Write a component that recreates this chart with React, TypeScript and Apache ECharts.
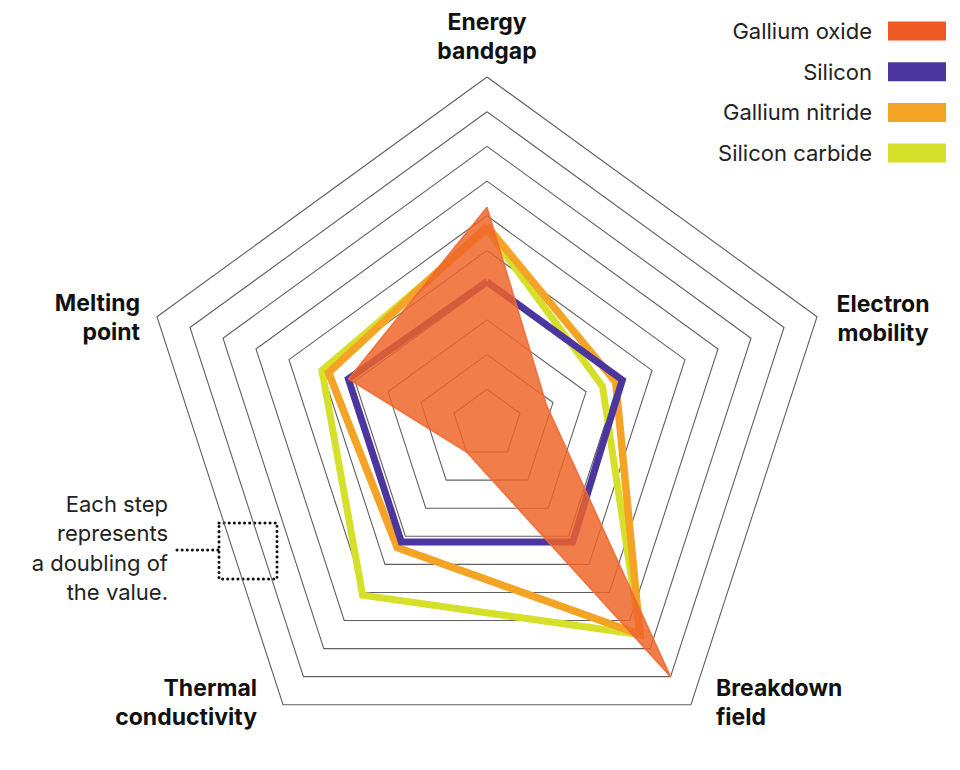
import React, { useEffect, useRef } from 'react';
import * as echarts from 'echarts';

// Indicators, counter-clockwise from the top
const indicatorNames = ['Energy\nbandgap', 'Melting\npoint', 'Thermal\nconductivity', 'Breakdown\nfield', 'Electron\nmobility'];
const stepCount = 10; // each step represents a doubling of the value

const seriesNames = ['Gallium oxide', 'Silicon', 'Gallium nitride', 'Silicon carbide'];
const galliumOxide = [6.25, 4.2, 1.0, 9.0, 1.8];
const silicon = [4.1, 4.2, 4.2, 4.2, 4.1];
const galliumNitride = [5.7, 4.8, 4.4, 7.5, 3.9];
const siliconCarbide = [5.6, 5.0, 6.1, 7.5, 3.5];

const colors: Record<string, string> = {
  'Gallium oxide': '#EE5A24',
  'Silicon': '#4B36A0',
  'Gallium nitride': '#F4A324',
  'Silicon carbide': '#D6E02B',
};

const note = 'Each step\nrepresents\na doubling of\nthe value.';

const FONT = 'Inter, "Noto Sans", sans-serif';

export default function App() {
  const ref = useRef<HTMLDivElement>(null);
  useEffect(() => {
    if (!ref.current) return;
    const chart = echarts.init(ref.current, null, { renderer: 'svg' });
    const lineSeries = (name: string, values: number[], width: number) => ({
      type: 'radar',
      name,
      symbol: 'none',
      silent: true,
      data: [{ value: values, name }],
      lineStyle: { color: colors[name], width, join: 'miter', opacity: 1 },
      itemStyle: { color: colors[name] },
    });
    const nameLabel = (text: string, x: number, y: number, align: string) => ({
      type: 'text',
      x,
      y,
      style: {
        text,
        font: `bold 23px ${FONT}`,
        fill: '#111',
        align,
        verticalAlign: 'top',
        lineHeight: 29,
      },
    });
    chart.setOption({
      animation: false,
      backgroundColor: '#fff',
      legend: {
        orient: 'vertical',
        right: 14,
        top: 20,
        padding: 0,
        align: 'right',
        itemWidth: 58,
        itemHeight: 19,
        itemGap: 18.7,
        selectedMode: false,
        textStyle: { fontFamily: FONT, fontSize: 22, lineHeight: 19, color: '#222', padding: [0, 11, 0, 0] },
        data: seriesNames.map((n) => ({ name: n, icon: 'rect', itemStyle: { color: colors[n] } })),
      },
      radar: {
        center: [487, 424],
        radius: 347,
        startAngle: 90,
        shape: 'polygon',
        splitNumber: stepCount,
        indicator: indicatorNames.map((n) => ({ name: n, min: 0, max: stepCount })),
        axisName: { show: false },
        axisLine: { show: false },
        axisTick: { show: false },
        axisLabel: { show: false },
        splitArea: { show: false },
        splitLine: { lineStyle: { color: '#606060', width: 1.1 } },
      },
      series: [
        lineSeries('Silicon carbide', siliconCarbide, 7),
        lineSeries('Gallium nitride', galliumNitride, 7.5),
        lineSeries('Silicon', silicon, 7),
        {
          type: 'radar',
          name: 'Gallium oxide',
          symbol: 'none',
          silent: true,
          data: [{ value: galliumOxide, name: 'Gallium oxide' }],
          lineStyle: { color: '#F07040', width: 1.5, opacity: 0.9 },
          areaStyle: { color: '#EE6428', opacity: 0.84 },
          itemStyle: { color: colors['Gallium oxide'] },
        },
      ],
      graphic: [
        nameLabel(indicatorNames[0], 487, 7, 'center'),
        nameLabel(indicatorNames[4], 883, 289, 'center'),
        nameLabel(indicatorNames[3], 716, 673, 'left'),
        nameLabel(indicatorNames[2], 257, 673, 'right'),
        nameLabel(indicatorNames[1], 140, 288, 'right'),
        {
          type: 'text',
          x: 168,
          y: 489,
          style: {
            text: note,
            font: `22px ${FONT}`,
            fill: '#222',
            align: 'right',
            verticalAlign: 'top',
            lineHeight: 29.5,
          },
        },
        {
          type: 'rect',
          shape: { x: 219, y: 523, width: 58, height: 56 },
          style: { fill: 'none', stroke: '#111', lineWidth: 3, lineDash: [0.1, 5], lineCap: 'round' },
        },
        {
          type: 'line',
          shape: { x1: 177, y1: 550, x2: 219, y2: 550 },
          style: { stroke: '#111', lineWidth: 3, lineDash: [0.1, 5], lineCap: 'round' },
        },
      ],
    });
    return () => chart.dispose();
  }, []);
  return <div ref={ref} style={{ position: 'fixed', left: 0, top: 0, width: 960, height: 770 }} />;
}
